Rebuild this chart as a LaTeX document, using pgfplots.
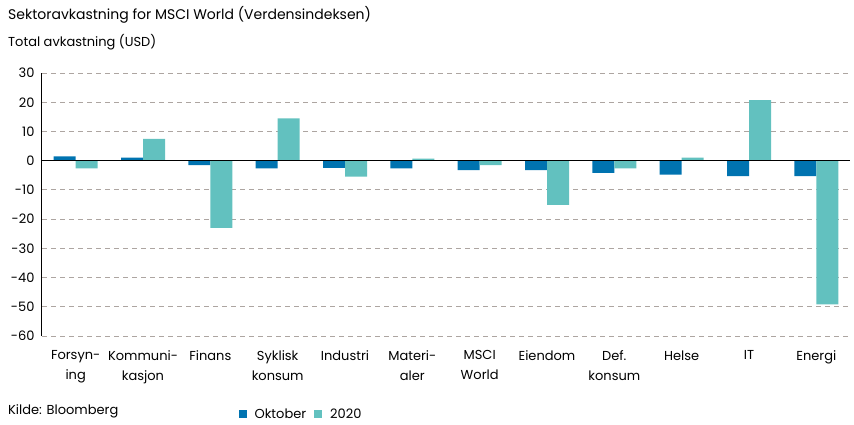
\documentclass[border=0pt]{standalone}
\usepackage{fontspec}
\setmainfont{Poppins}
\usepackage{pgfplots}
\pgfplotsset{compat=1.18}
\definecolor{okt}{HTML}{0073B0}
\definecolor{yr}{HTML}{62C1BF}
\definecolor{gridc}{HTML}{ADA5A1}
\begin{document}
\begin{tikzpicture}
\useasboundingbox (0,0) rectangle (854pt,424pt);
\node[anchor=base west,inner sep=0pt,font=\fontsize{14}{16}\selectfont] at (8pt,404pt) {Sektoravkastning for MSCI World (Verdensindeksen)};
\node[anchor=base west,inner sep=0pt,font=\fontsize{13}{15}\selectfont] at (8pt,377pt) {Total avkastning (USD)};
\node[anchor=base west,inner sep=0pt,font=\fontsize{13}{15}\selectfont] at (8pt,10pt) {Kilde: Bloomberg};
\begin{axis}[
  at={(42pt,88pt)}, anchor=south west,
  scale only axis, width=808pt, height=263pt,
  ybar=0pt, bar width=22pt,
  xmin=-0.5, xmax=11.5, ymin=-60, ymax=30,
  ytick={-60,-50,...,30},
  xtick={0,...,11},
  xticklabels={{Forsyn-\\ing},{Kommuni-\\kasjon},Finans,{Syklisk\\konsum},Industri,{Materi-\\aler},{MSCI\\World},Eiendom,{Def.\\konsum},Helse,IT,Energi},
  xticklabel style={align=center, anchor=north, yshift=-11pt, font=\fontsize{13}{20}\selectfont},
  yticklabel style={font=\fontsize{13}{15}\selectfont, xshift=-4pt},
  /pgf/number format/assume math mode=true,
  axis x line*=bottom,
  x axis line style={draw=none},
  axis y line*=left,
  y axis line style={black, line width=1pt, -},
  major tick length=0pt,
  ymajorgrids,
  grid style={gridc, line width=1pt, dash pattern=on 5pt off 4pt},
  legend columns=2,
  legend style={at={(0.243,-0.297)}, anchor=west, draw=none, fill=none,
    font=\fontsize{13}{15}\selectfont, column sep=6pt, inner sep=0pt},
  legend image code/.code={\fill[#1] (0pt,-3.5pt) rectangle (8pt,4.5pt);},
]
\addplot[fill=okt, draw=none] coordinates {
(0,1.5) (1,1.0) (2,-1.5) (3,-2.6) (4,-2.5) (5,-2.6) (6,-3.2) (7,-3.2) (8,-4.2) (9,-4.8) (10,-5.3) (11,-5.3)};
\addplot[fill=yr, draw=none] coordinates {
(0,-2.6) (1,7.5) (2,-23.0) (3,14.5) (4,-5.5) (5,0.7) (6,-1.5) (7,-15.1) (8,-2.6) (9,1.0) (10,20.7) (11,-49.2)};
\legend{Oktober,2020}
\draw[black, line width=1.2pt] (axis cs:-0.5,0) -- (axis cs:11.5,0);
\end{axis}
\end{tikzpicture}
\end{document}
